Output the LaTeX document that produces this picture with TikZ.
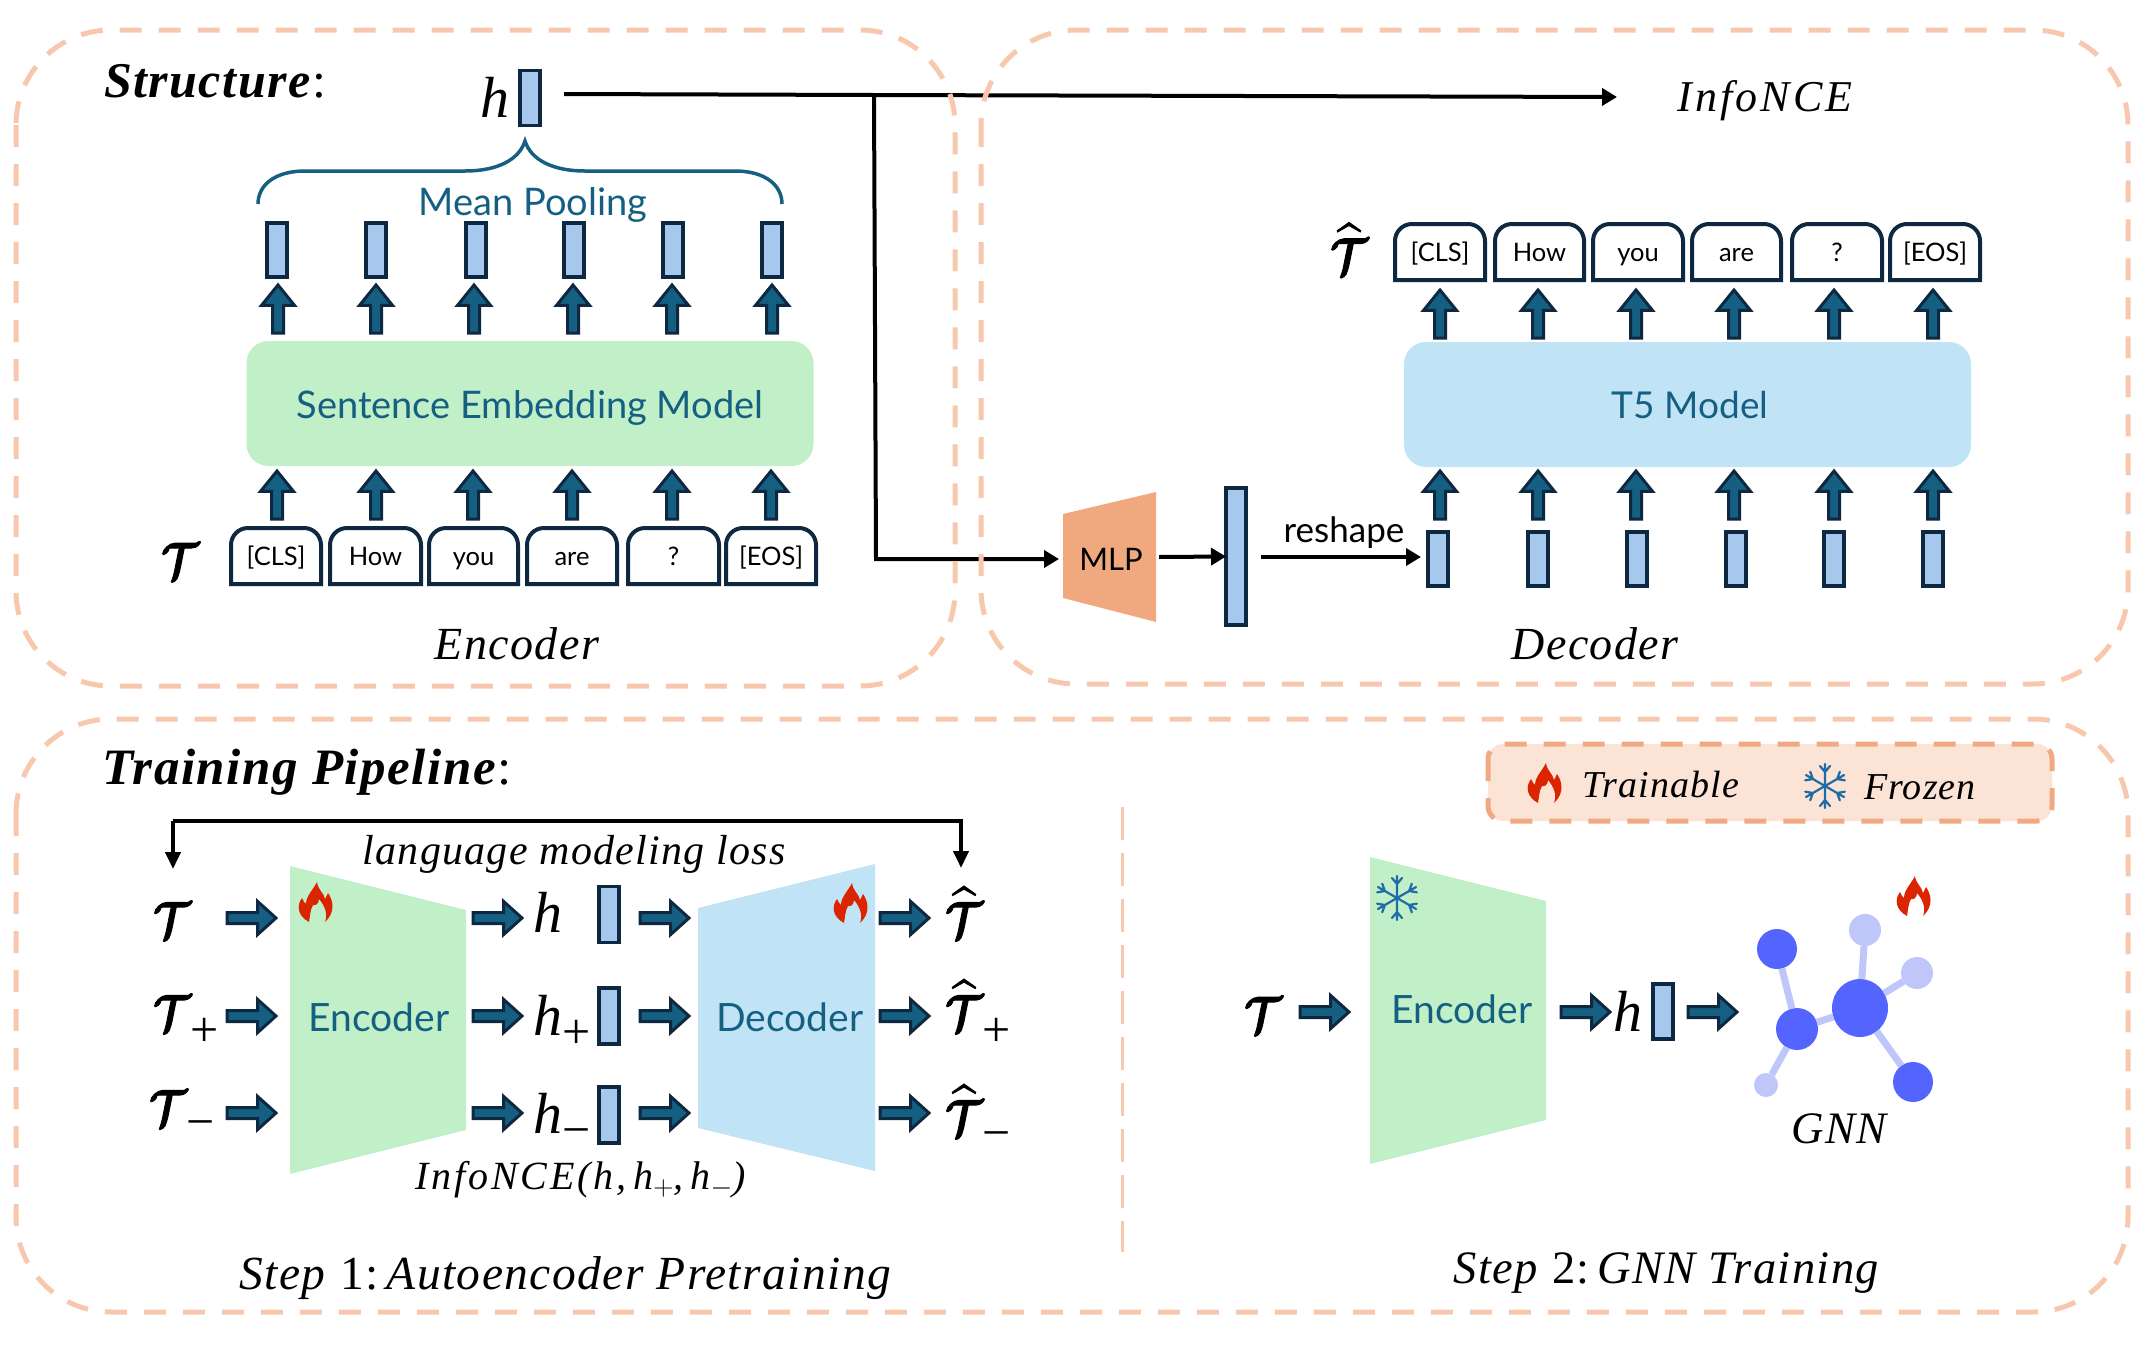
\RequirePackage{fix-cm}
\documentclass[tikz,border=0pt]{standalone}
\usepackage{amsmath,amssymb,bm}
\usepackage{fontspec}
\setmainfont{Liberation Serif}
\setsansfont{Lato}
\newfontfamily\ser[LetterSpace=3]{Liberation Serif}
\newfontfamily\serw[LetterSpace=7]{Liberation Serif}
\usetikzlibrary{arrows.meta,shapes.arrows,shapes.geometric}
\definecolor{peach}{HTML}{F8C8AE}
\definecolor{veclue}{HTML}{A6C8EC}
\definecolor{navy}{HTML}{0E2841}
\definecolor{tealc}{HTML}{156082}
\definecolor{grn}{HTML}{C1F0C8}
\definecolor{sky}{HTML}{C0E4F5}
\definecolor{orng}{HTML}{F0A97F}
\definecolor{legf}{HTML}{FBE3D6}
\definecolor{legd}{HTML}{F1A983}
\definecolor{flamec}{HTML}{DB2400}
\definecolor{snow}{HTML}{1F6CA6}
\definecolor{gnnd}{HTML}{5465FF}
\definecolor{gnnl}{HTML}{BFC6FA}
\newcommand\hvy[1]{\special{pdf:code 2 Tr 1.1 w}#1\special{pdf:code 0 Tr 1 w}}
\newcommand\mT{\hvy{\scalebox{.8}[1]{$\boldsymbol{\mathcal{T}}$}}}
\newcommand\mTh{\hvy{\scalebox{.8}[1]{$\widehat{\boldsymbol{\mathcal{T}}}$}}}
\newcommand\fs[1]{\fontsize{#1}{#1}\selectfont}
\newcommand\pl[1]{\raisebox{#1}{\fs{50}\upshape +}}
\newcommand\mi[1]{\raisebox{#1}{\fs{50}\upshape −}}
\tikzset{
  x=1pt,y=-1pt,
  every node/.style={inner sep=0pt,outer sep=0pt},
  frame/.style={draw=peach,line width=5pt,dash pattern=on 22pt off 17pt,rounded corners=95pt},
  vec/.style={draw=navy,fill=veclue,line width=3.5pt,minimum width=20pt,minimum height=54pt},
  uarr/.style={single arrow,draw=navy,fill=tealc,line width=3pt,rotate=90,anchor=tail,
    minimum width=33pt,minimum height=48pt,single arrow head extend=3pt,single arrow tip angle=78},
  rarr/.style={single arrow,draw=navy,fill=tealc,line width=3pt,anchor=tail,
    minimum width=33pt,minimum height=49pt,single arrow head extend=3pt,single arrow tip angle=84},
  thin arr/.style={draw=black,line width=4pt,-{Triangle[length=15pt,width=17pt]}},
  tok/.style={draw=navy,line width=4pt},
  toktxt/.style={font=\sffamily\fs{25.5},text=black,text height=18pt,text depth=5pt},
  mdl/.style={font=\sffamily\fs{38},text=tealc},
  mdlb/.style={font=\sffamily\fs{39},text=tealc},
  captxt/.style={font=\ser\itshape\fs{46},text=black},
  mathtxt/.style={font=\fs{52},text=black},
  pics/flameicon/.style={code={
    \fill[flamec,even odd rule] (1,-20)
      .. controls (2,-12) and (8,-9) .. (9,-3)
      .. controls (10,-5) and (11,-7) .. (12,-9)
      .. controls (17,-2) and (20,10) .. (9,20)
      .. controls (12,12) and (9,4) .. (3,-3)
      .. controls (3,2) and (-1,4) .. (-3,3)
      .. controls (-6,8) and (-6,15) .. (-7,20)
      .. controls (-18,14) and (-20,4) .. (-14,-4)
      .. controls (-13,-1) and (-11,1) .. (-10,2)
      .. controls (-10,-6) and (-3,-12) .. (1,-20) -- cycle;
  }},
  pics/snowicon/.style={code={
    \foreach \a in {0,60,120,180,240,300}{
      \draw[snow,line width=2.2pt,rotate=\a,line cap=round] (0,0) -- (0,-22) (-5,-20) -- (0,-14) -- (5,-20);
    }
  }},
}
\newcommand\tokbox[6]{% name x1 x2 y1 y2 text
  \draw[tok] (#2,#5) [rounded corners=17pt] -- (#2,#4) -- (#3,#4) [sharp corners] -- (#3,#5) -- cycle;
  \node[toktxt] (#1) at ({(#2+#3)/2},{(#4+#5)/2+3}) {#6};
}
\begin{document}
\begin{tikzpicture}
\useasboundingbox (0,0) rectangle (2150,1355);

% --- thin connectors under the frames
\node[mathtxt,font=\itshape\fs{58}] (hT) at (495,97) {h};
\node[vec,minimum height=55pt] (hV) at (530,98) {};
\coordinate (hout) at (564,94);
\coordinate (branch) at (874,95);
\coordinate (infoin) at (1617,97);
\coordinate (mlpin) at (1059,559);
\coordinate (corner) at (876,559);
\draw[line width=4pt] (hout) -- (branch);
\draw[thin arr] (branch) -- (infoin);
\draw[thin arr,line join=miter] (branch) -- (corner) -- (mlpin);

% --- frames
\draw[frame] (16,30) rectangle (955,686);
\draw[frame] (981,30) rectangle (2128,684);
\draw[frame] (16,719) rectangle (2128,1312);

% --- Structure, encoder
\node[anchor=west,font=\ser\bfseries\itshape\fs{50}] (struct) at (104,81) {Structure\textnormal{:}};
\draw[tealc,line width=3.5pt] (258,204) .. controls (258,185) and (275,171) .. (305,171) -- (465,171)
  .. controls (497,171) and (519,160) .. (525,141)
  .. controls (531,160) and (553,171) .. (585,171) -- (735,171)
  .. controls (765,171) and (782,185) .. (782,204);
\node[mdl] (mp) at (533,205) {Mean Pooling};
\foreach \x [count=\i] in {277,376,476,574,673,772}{
  \node[vec] (ev\i) at (\x,250) {};
}
\foreach \x [count=\i] in {278,376,474,573,672,772}{
  \node[uarr] (eu\i) at (\x,333) {};
}
\node[fill=grn,rounded corners=22pt,minimum width=567pt,minimum height=125pt] (sem) at (530,403.5) {};
\node[mdl] (semt) at (530,408) {Sentence Embedding Model};
\foreach \x [count=\i] in {277,376,473,572,672,771}{
  \node[uarr] (ed\i) at (\x,519) {};
}
\tokbox{et1}{231}{321}{528}{584}{[CLS]}
\tokbox{et2}{330}{421}{528}{584}{How}
\tokbox{et3}{429}{518}{528}{584}{you}
\tokbox{et4}{527}{617}{528}{584}{are}
\tokbox{et5}{628}{719}{528}{584}{?}
\tokbox{et6}{726}{816}{528}{584}{[EOS]}
\node[mathtxt] (eT) at (180,561) {\mT};
\node[captxt] (enc) at (517,644) {Encoder};

% --- decoder
\node[font=\serw\itshape\fs{44}] (info) at (1765,101) {InfoNCE};
\node[mathtxt] (dT) at (1349,249) {\mTh};
\tokbox{dt1}{1395}{1485}{224}{280}{[CLS]}
\tokbox{dt2}{1495}{1584}{224}{280}{How}
\tokbox{dt3}{1593}{1683}{224}{280}{you}
\tokbox{dt4}{1692}{1781}{224}{280}{are}
\tokbox{dt5}{1792}{1882}{224}{280}{?}
\tokbox{dt6}{1890}{1980}{224}{280}{[EOS]}
\foreach \x [count=\i] in {1440,1538,1636,1734,1834,1933}{
  \node[uarr] (du\i) at (\x,338) {};
  \node[uarr] (dl\i) at (\x,519) {};
}
\node[fill=sky,rounded corners=22pt,minimum width=567pt,minimum height=125pt] (t5) at (1687.5,404.5) {};
\node[font=\sffamily\fs{37},text=tealc] (t5t) at (1690,405) {T5 Model};
\foreach \x [count=\i] in {1438,1538,1637,1736,1834,1933}{
  \node[vec] (dv\i) at (\x,559) {};
}
\fill[orng] (1063,514) -- (1156,492) -- (1156,622) -- (1063,598) -- cycle;
\node[font=\sffamily\fs{31},text=black] (mlp) at (1111,559) {MLP};
\node[vec,minimum height=137pt] (big) at (1236,556.5) {};
\coordinate (mlpout) at (1159,557);
\coordinate (reshout) at (1261,557);
\coordinate (reshin) at (1421,557);
\draw[thin arr] (mlpout) -- (big.west);
\draw[thin arr] (reshout) -- (reshin);
\node[font=\sffamily\fs{35},text=black] (resh) at (1344,533) {reshape};
\node[captxt] (dec) at (1595,644) {Decoder};

% --- training pipeline
\node[anchor=west,font=\ser\bfseries\itshape\fs{51}] (train) at (102,772) {Training Pipeline\textnormal{:}};
\coordinate (lossL) at (173,869);
\coordinate (lossTL) at (173,821);
\coordinate (lossTR) at (961,821);
\coordinate (lossR) at (961,868);
\draw[line width=4pt,-{Triangle[length=17pt,width=15pt]},line join=miter] (lossTL) -- (lossL);
\draw[line width=4pt,-{Triangle[length=17pt,width=15pt]},line join=miter] (lossTL) -- (lossTR) -- (lossR);
\node[font=\ser\itshape\fs{42},text=black] (loss) at (574,854) {language modeling loss};

\fill[grn] (290,866) -- (466,910) -- (466,1130) -- (290,1174) -- cycle;
\fill[sky] (698,908) -- (875,864) -- (875,1171) -- (698,1128) -- cycle;
\node[mdlb] (enct) at (379,1017) {Encoder};
\node[mdlb] (dect) at (790,1017) {Decoder};
\pic at (316,902) {flameicon};
\pic at (851,903) {flameicon};

\foreach \y [count=\i] in {918,1016,1113}{
  \node[rarr] (a\i) at (227,\y) {};
  \node[rarr] (b\i) at (473,\y) {};
  \node[rarr] (c\i) at (640,\y) {};
  \node[rarr] (d\i) at (880,\y) {};
}
\node[vec,minimum height=56pt] (hv1) at (609,914.5) {};
\node[vec,minimum height=56pt] (hv2) at (609,1016) {};
\node[vec,minimum height=56pt] (hv3) at (609,1115) {};
\node[mathtxt,anchor=base west] (t1) at (153,938) {\mT};
\node[mathtxt,anchor=base west] (t2) at (153,1031) {\mT\pl{-15pt}};
\node[mathtxt,anchor=base west] (t3) at (149,1126) {\mT\mi{-12pt}};
\node[mathtxt,anchor=base west,font=\itshape\fs{58}] (h1) at (533,932) {h};
\node[mathtxt,anchor=base west,font=\itshape\fs{58}] (h2) at (533,1035) {h\pl{-13pt}};
\node[mathtxt,anchor=base west,font=\itshape\fs{58}] (h3) at (533,1133) {h\mi{-13pt}};
\node[mathtxt,anchor=base west] (th1) at (945,938) {\mTh};
\node[mathtxt,anchor=base west] (th2) at (945,1031) {\mTh\pl{-15pt}};
\node[mathtxt,anchor=base west] (th3) at (945,1136) {\mTh\mi{-13pt}};
\node[font=\serw\itshape\fs{40},text=black] (nce) at (581,1180) {InfoNCE(h,\,h$_{+}$,\,h$_{-}$)};
\node[font=\ser\fs{47.5},text=black] (st1) at (566,1278) {\textit{Step} 1\textnormal{:}\,\textit{Autoencoder Pretraining}};

% --- divider and legend
\coordinate (divT) at (1122,807);
\coordinate (divB) at (1122,1252);
\draw[peach,line width=3pt,dash pattern=on 33pt off 13pt] (divT) -- (divB);
\node[fill=legf,minimum width=564pt,minimum height=77pt,rounded corners=15pt] (leg) at (1770,782.5) {};
\draw[legd,line width=5pt,dash pattern=on 22pt off 17pt,rounded corners=15pt] (1488,744) rectangle (2052,821);
\pic at (1545,783) {flameicon};
\node[font=\ser\itshape\fs{38},text=black] (ltr) at (1661,785) {Trainable};
\pic at (1825,786) {snowicon};
\node[font=\ser\itshape\fs{38},text=black] (lfr) at (1920,787) {Frozen};

% --- step 2
\fill[grn] (1370,857) -- (1546,901) -- (1546,1120) -- (1370,1164) -- cycle;
\node[mdlb] (enc2) at (1462,1009) {Encoder};
\pic at (1397,898) {snowicon};
\node[mathtxt] (t2T) at (1263,1015) {\mT};
\node[rarr] (s1) at (1300,1012) {};
\node[rarr] (s2) at (1561,1012) {};
\node[mathtxt,font=\itshape\fs{58}] (s2h) at (1628,1011) {h};
\node[vec,minimum height=55pt] (s2v) at (1663,1011.5) {};
\node[rarr] (s3) at (1688,1012) {};

\node[ellipse,fill=gnnd,minimum width=56pt,minimum height=58pt] (g0) at (1860,1008) {};
\node[circle,fill=gnnd,minimum size=42pt] (g1) at (1797,1029) {};
\node[circle,fill=gnnd,minimum size=40pt] (g2) at (1777,949) {};
\node[circle,fill=gnnd,minimum size=40pt] (g3) at (1913,1082) {};
\node[circle,fill=gnnl,minimum size=32pt] (g4) at (1865,930) {};
\node[circle,fill=gnnl,minimum size=32pt] (g5) at (1917,973) {};
\node[circle,fill=gnnl,minimum size=24pt] (g6) at (1766,1085) {};
\foreach \a/\b in {g0/g1,g1/g2,g0/g3,g0/g4,g0/g5,g1/g6}{
  \draw[gnnl,line width=7pt] (\a) -- (\b);
}
\pic at (1914,896) {flameicon};
\node[font=\ser\itshape\fs{45},text=black] (gnn) at (1839,1129) {GNN};
\node[font=\ser\fs{46.5},text=black] (st2) at (1667,1273) {\textit{Step} 2\textnormal{:}\,\textit{GNN Training}};
\end{tikzpicture}
\end{document}
